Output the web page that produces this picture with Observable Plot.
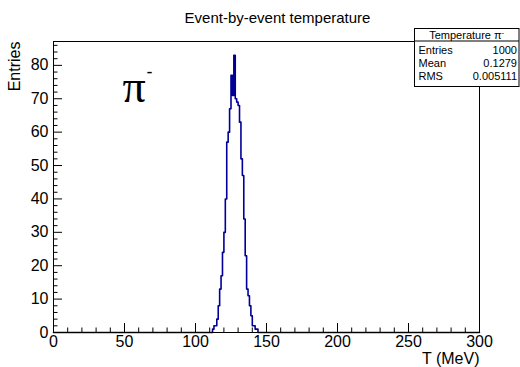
<!DOCTYPE html>
<html><head><meta charset="utf-8">
<script src="https://cdn.jsdelivr.net/npm/d3@7"></script>
<script src="https://cdn.jsdelivr.net/npm/@observablehq/plot@0.6"></script>
<style>
body{margin:0;background:#fff}
svg{font-family:"Liberation Sans",Arial,Helvetica,sans-serif}
</style>
</head><body><div id="chart"></div>
<script>
// Histogram data: 1 MeV bins, start of each non-empty bin and its entries
const binStart = [112,113,114,115,116,117,118,119,120,121,122,123,124,125,126,127,128,129,130,131,132,133,134,135,136,137,138,139,140,141,142,143];
const counts   = [1,2,2,4,8,13,17,24,30,40,57,60,67,77,71,83,70,69,68,63,52,47,34,23,13,11,8,5,2,2,1,1];
const xRange = [0, 300];
const nBins = 300;
const xMajorTicks = [0,50,100,150,200,250,300];
const xMinorTicks = [10,20,30,40,60,70,80,90,110,120,130,140,160,170,180,190,210,220,230,240,260,270,280,290];
const yMajorTicks = [0,10,20,30,40,50,60,70,80];
const yMinorTicks = [2,4,6,8,12,14,16,18,22,24,26,28,32,34,36,38,42,44,46,48,52,54,56,58,62,64,66,68,72,74,76,78,82,84,86];
const titleText = "Event-by-event temperature";
const xLabel = "T (MeV)";
const yLabel = "Entries";
const statsTitle = "Temperature π";
const statsNames = ["Entries","Mean","RMS"];
const statsValues = ["1000","0.1279","0.005111"];

const W = 520, H = 367;
const mL = 53, mR = 41, mT = 41, mB = 35;
const fw = W - mL - mR, fh = H - mT - mB;
const col = "#000099";

const contents = new Array(nBins).fill(0);
binStart.forEach((b, i) => { contents[b] = counts[i]; });
const step = (xRange[1] - xRange[0]) / nBins;
const pts = contents.map((c, i) => ({x: xRange[0] + i * step, y: c}));
pts.push({x: xRange[1], y: 0});
const yMax = d3.max(counts) * 1.05;

const chart = Plot.plot({
  width: W, height: H,
  marginLeft: mL, marginRight: mR, marginTop: mT, marginBottom: mB,
  style: {fontFamily: '"Liberation Sans", Arial, sans-serif', background: "white", overflow: "visible"},
  x: {domain: xRange},
  y: {domain: [0, yMax]},
  marks: [
    Plot.line(pts, {x: "x", y: "y", curve: "step-after", stroke: col, strokeWidth: 1.6}),
    Plot.frame({stroke: "black", strokeWidth: 1}),
    Plot.tickX(xMajorTicks, {x: d => d, stroke: "black", insetTop: fh - 9}),
    Plot.tickX(xMinorTicks, {x: d => d, stroke: "black", insetTop: fh - 4.5}),
    Plot.tickY(yMajorTicks, {y: d => d, stroke: "black", insetRight: fw - 9}),
    Plot.tickY(yMinorTicks, {y: d => d, stroke: "black", insetRight: fw - 4.5}),
    Plot.axisX({ticks: xMajorTicks, tickSize: 0, tickPadding: 3, fontSize: 16, label: null, tickFormat: d => d}),
    Plot.axisY({ticks: yMajorTicks, tickSize: 0, tickPadding: 5, fontSize: 16, label: null, tickFormat: d => d}),
    Plot.text([xLabel], {frameAnchor: "bottom-right", dy: 31, textAnchor: "end", fontSize: 16, fill: "black"}),
    Plot.text([yLabel], {frameAnchor: "top-left", dx: -45, rotate: -90, textAnchor: "end", fontSize: 16, fill: "black"}),
    Plot.text([titleText], {frameAnchor: "top", dx: 11, dy: -29, fontSize: 15, fill: "black"}),
    Plot.text(["π"], {frameAnchor: "top-left", dx: 69, dy: 28, lineAnchor: "top", fontSize: 46, fontFamily: '"Liberation Serif", serif', fill: "black"}),
    Plot.text(["-"], {frameAnchor: "top-left", dx: 93, dy: 31, lineAnchor: "middle", fontSize: 18, fill: "black", textAnchor: "start"})
  ]
});

// ROOT-style statistics box
const svg = d3.select(chart);
const bx = 414.5, by = 28.5, bw = 104.5, bh = 58;
const g = svg.append("g").attr("font-size", 11).attr("fill", "black").attr("text-anchor", "start");
g.append("rect").attr("x", bx).attr("y", by).attr("width", bw).attr("height", bh)
  .attr("fill", "white").attr("stroke", "black");
g.append("line").attr("x1", bx).attr("x2", bx + bw).attr("y1", by + 12.5).attr("y2", by + 12.5).attr("stroke", "black");
const tt = g.append("text").attr("x", bx + bw / 2).attr("y", by + 10).attr("text-anchor", "middle");
tt.append("tspan").text(statsTitle);
tt.append("tspan").attr("dy", -4).attr("font-size", 8).text("-");
statsNames.forEach((n, i) => {
  g.append("text").attr("x", bx + 4).attr("y", by + 25 + i * 13).attr("text-anchor", "start").text(n);
  g.append("text").attr("x", bx + bw - 2).attr("y", by + 25 + i * 13).attr("text-anchor", "end").text(statsValues[i]);
});

document.getElementById("chart").appendChild(chart);
</script>
</body></html>
